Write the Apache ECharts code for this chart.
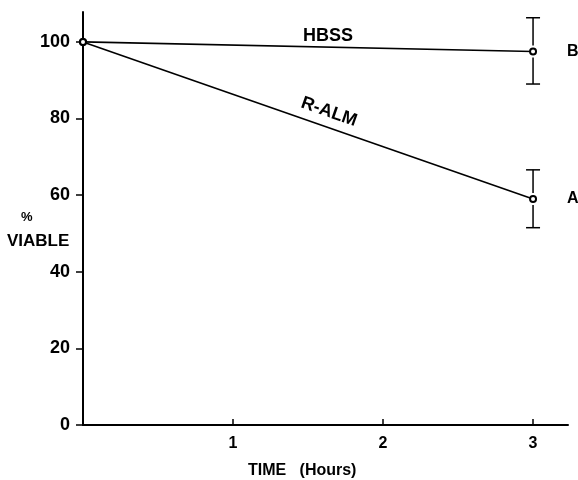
<!DOCTYPE html>
<html>
<head>
<meta charset="utf-8">
<script src="https://cdn.jsdelivr.net/npm/echarts@6/dist/echarts.min.js"></script>
<style>
  html, body { margin: 0; padding: 0; background: #fff; }
  #chart { width: 578px; height: 480px; }
</style>
</head>
<body>
<div id="chart"></div>
<script>
// data
var hours = [0, 3];
var hbss = [100, 97.5];
var ralm = [100, 59];
// error bars at 3 h: [x, low, high]
var hbssErr = [3, 89, 106.3];
var ralmErr = [3, 51.5, 66.6];
var yTicks = [0, 20, 40, 60, 80, 100];
var xTicks = [1, 2, 3];

var FONT = 'Liberation Sans, Arial, sans-serif';

var pairs = function(xs, ys){
  return xs.map(function(x, i){ return [x, ys[i]]; });
};

// error bar with caps, gap around the open circle
var errRender = function(params, api){
  var x = api.value(0);
  var lo = api.coord([x, api.value(1)]);
  var hi = api.coord([x, api.value(2)]);
  var mid = api.coord([x, api.value(3)]);
  var cap = 7, gap = 6;
  var style = { stroke: '#000', lineWidth: 1.5 };
  return {
    type: 'group',
    children: [
      { type: 'line', shape: { x1: hi[0], y1: hi[1], x2: hi[0], y2: mid[1] - gap }, style: style },
      { type: 'line', shape: { x1: lo[0], y1: mid[1] + gap, x2: lo[0], y2: lo[1] }, style: style },
      { type: 'line', shape: { x1: hi[0] - cap, y1: hi[1], x2: hi[0] + cap, y2: hi[1] }, style: style },
      { type: 'line', shape: { x1: lo[0] - cap, y1: lo[1], x2: lo[0] + cap, y2: lo[1] }, style: style }
    ]
  };
};

var chart = echarts.init(document.getElementById('chart'));

var option = {
  backgroundColor: '#fff',
  animation: false,
  grid: { left: 83, right: 10, top: 12, bottom: 55 },
  xAxis: {
    type: 'value',
    min: 0,
    max: 3.233,
    interval: 1,
    splitLine: { show: false },
    axisLine: { lineStyle: { color: '#000', width: 2 } },
    axisTick: { inside: true, length: 6, customValues: xTicks, lineStyle: { color: '#000', width: 1.5 } },
    axisLabel: { customValues: xTicks, margin: 11, color: '#000', fontSize: 16, fontWeight: 'bold', fontFamily: FONT }
  },
  yAxis: {
    type: 'value',
    min: 0,
    max: 107.8,
    interval: 20,
    splitLine: { show: false },
    axisLine: { lineStyle: { color: '#000', width: 2 } },
    axisTick: { length: 7, customValues: yTicks, lineStyle: { color: '#000', width: 1.5 } },
    axisLabel: { customValues: yTicks, margin: 13, color: '#000', fontSize: 18, fontWeight: 'bold', fontFamily: FONT }
  },
  series: [
    {
      name: 'HBSS',
      type: 'line',
      data: pairs(hours, hbss),
      symbol: 'emptyCircle',
      symbolSize: 6,
      showSymbol: true,
      lineStyle: { color: '#000', width: 1.6 },
      itemStyle: { color: '#000', borderWidth: 1.5 },
      label: {
        show: true,
        formatter: function(p){ return p.value[0] === 3 ? 'B' : ''; },
        position: 'right', distance: 30,
        color: '#000', fontSize: 16, fontWeight: 'bold', fontFamily: FONT
      }
    },
    {
      name: 'R-ALM',
      type: 'line',
      data: pairs(hours, ralm),
      symbol: 'emptyCircle',
      symbolSize: 6,
      lineStyle: { color: '#000', width: 1.6 },
      itemStyle: { color: '#000', borderWidth: 1.5 },
      label: {
        show: true,
        formatter: function(p){ return p.value[0] === 3 ? 'A' : ''; },
        position: 'right', distance: 30,
        color: '#000', fontSize: 16, fontWeight: 'bold', fontFamily: FONT
      }
    },
    {
      type: 'custom',
      renderItem: errRender,
      data: [
        [hbssErr[0], hbssErr[1], hbssErr[2], hbss[1]],
        [ralmErr[0], ralmErr[1], ralmErr[2], ralm[1]]
      ],
      z: 1
    }
  ],
  graphic: [
    { type: 'text', left: 303, top: 27, style: { text: 'HBSS', fill: '#000', font: 'bold 18px ' + FONT } },
    { type: 'text', x: 329, y: 112, rotation: -0.34,
      style: { text: 'R-ALM', fill: '#000', font: 'bold 18px ' + FONT, align: 'center', verticalAlign: 'middle' } },
    { type: 'text', left: 21, top: 211, style: { text: '%', fill: '#000', font: 'bold 13px ' + FONT } },
    { type: 'text', left: 7, top: 233, style: { text: 'VIABLE', fill: '#000', font: 'bold 17px ' + FONT } },
    { type: 'text', left: 248, top: 463, style: { text: 'TIME   (Hours)', fill: '#000', font: 'bold 16px ' + FONT } }
  ]
};

chart.setOption(option);
</script>
</body>
</html>
